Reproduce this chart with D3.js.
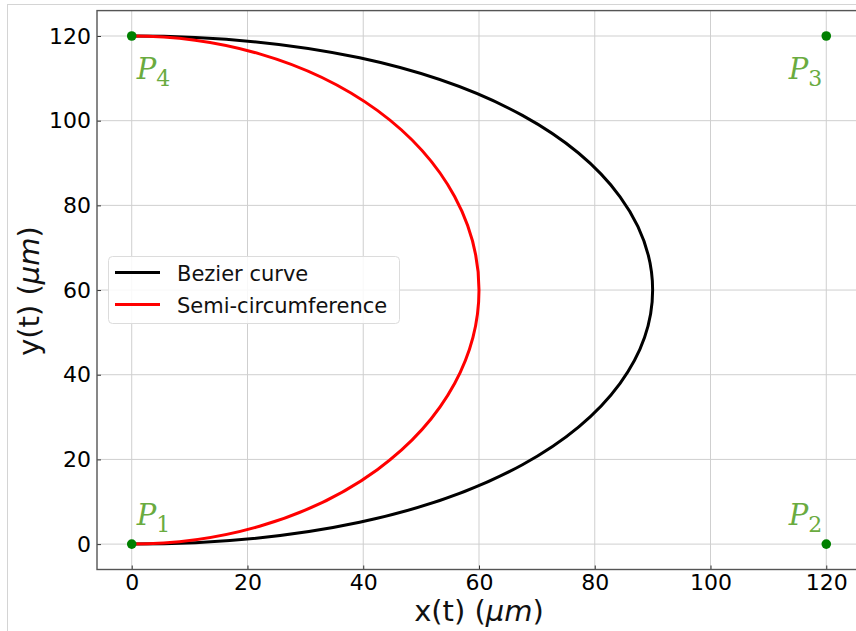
<!DOCTYPE html>
<html>
<head>
<meta charset="utf-8">
<script src="https://cdn.jsdelivr.net/npm/d3@7"></script>
<style>
  html, body { margin: 0; padding: 0; background: #fff; }
  svg { display: block; }
</style>
</head>
<body>
<svg id="chart" width="856" height="631"></svg>
<script>
// ---------- data ----------
const controlX = [0, 120, 120, 0];
const controlY = [0, 0, 120, 120];
const controlLabels = ["1", "2", "3", "4"];
const circleCenter = [0, 60];
const circleRadius = 60;
const xTicks = [0, 20, 40, 60, 80, 100, 120];
const yTicks = [0, 20, 40, 60, 80, 100, 120];
const xDomain = [-6, 126];
const yDomain = [-6, 126];
const legendLabels = ["Bezier curve", "Semi-circumference"];
const legendColors = ["#000000", "#ff0000"];

// ---------- layout ----------
const W = 856, H = 631;
const plot = { left: 97, right: 861, top: 10.6, bottom: 569.5 };
const svg = d3.select("#chart");

// outer frame (screenshot border)
svg.append("line").attr("x1", 7.5).attr("x2", 7.5).attr("y1", 4).attr("y2", H)
  .attr("stroke", "#d4d4d4").attr("stroke-width", 1);
svg.append("line").attr("x1", 7.5).attr("x2", W).attr("y1", 4.5).attr("y2", 4.5)
  .attr("stroke", "#d4d4d4").attr("stroke-width", 1);

const x = d3.scaleLinear().domain(xDomain).range([plot.left, plot.right]);
const y = d3.scaleLinear().domain(yDomain).range([plot.bottom, plot.top]);

const font = "'DejaVu Sans', sans-serif";

// grid
const grid = svg.append("g");
grid.selectAll("line.gx").data(xTicks).join("line")
  .attr("x1", d => x(d)).attr("x2", d => x(d))
  .attr("y1", plot.top).attr("y2", plot.bottom)
  .attr("stroke", "#cfcfcf").attr("stroke-width", 1);
grid.selectAll("line.gy").data(yTicks).join("line")
  .attr("x1", plot.left).attr("x2", plot.right)
  .attr("y1", d => y(d)).attr("y2", d => y(d))
  .attr("stroke", "#cfcfcf").attr("stroke-width", 1);

// axes
const xAxis = svg.append("g").attr("transform", `translate(0,${plot.bottom})`)
  .call(d3.axisBottom(x).tickValues(xTicks).tickFormat(d3.format("d")).tickSizeInner(-4).tickSizeOuter(0).tickPadding(5));
const yAxis = svg.append("g").attr("transform", `translate(${plot.left},0)`)
  .call(d3.axisLeft(y).tickValues(yTicks).tickFormat(d3.format("d")).tickSizeInner(-4).tickSizeOuter(0).tickPadding(6));
[xAxis, yAxis].forEach(a => {
  a.select(".domain").remove();
  a.selectAll(".tick line").attr("stroke", "#333").attr("stroke-width", 1);
  a.selectAll(".tick text").attr("font-family", font).attr("font-size", 22).attr("fill", "#000");
});

// spines
svg.append("rect").attr("x", plot.left).attr("y", plot.top)
  .attr("width", plot.right - plot.left).attr("height", plot.bottom - plot.top)
  .attr("fill", "none").attr("stroke", "#555").attr("stroke-width", 1.4);

// Bezier curve from control points
const bp = d3.path();
bp.moveTo(x(controlX[0]), y(controlY[0]));
bp.bezierCurveTo(x(controlX[1]), y(controlY[1]), x(controlX[2]), y(controlY[2]), x(controlX[3]), y(controlY[3]));
svg.append("path").attr("d", bp.toString()).attr("fill", "none")
  .attr("stroke", legendColors[0]).attr("stroke-width", 3);

// Semi-circumference (ellipse in pixel space due to unequal aspect)
const rx = x(circleCenter[0] + circleRadius) - x(circleCenter[0]);
const ry = y(circleCenter[1] - circleRadius) - y(circleCenter[1]);
const sx = x(circleCenter[0]), sy = y(circleCenter[1] - circleRadius);
const ex = x(circleCenter[0]), ey = y(circleCenter[1] + circleRadius);
svg.append("path")
  .attr("d", `M${sx},${sy} A${rx},${ry} 0 0 0 ${ex},${ey}`)
  .attr("fill", "none").attr("stroke", legendColors[1]).attr("stroke-width", 3);

// control points
const pts = controlX.map((d, i) => ({ x: d, y: controlY[i], label: controlLabels[i] }));
svg.selectAll("circle.cp").data(pts).join("circle")
  .attr("cx", d => x(d.x)).attr("cy", d => y(d.y)).attr("r", 4.8)
  .attr("fill", "#008000");

// labels P_i
const lab = svg.selectAll("text.pl").data(pts).join("text")
  .attr("x", d => x(d.x) + (d.x > 60 ? -4 : 5))
  .attr("y", d => y(d.y) + (d.y > 60 ? 43 : -19))
  .attr("text-anchor", d => d.x > 60 ? "end" : "start")
  .attr("font-family", "'DejaVu Serif', 'Liberation Serif', serif")
  .attr("font-style", "italic")
  .attr("font-size", 29)
  .attr("fill", "#6aab3f");
lab.append("tspan").text("P");
lab.append("tspan").attr("dy", 7).attr("font-size", 22).attr("font-style", "normal").text(d => d.label);

// axis titles
const xt = svg.append("text").attr("x", 479).attr("y", 621).attr("text-anchor", "middle")
  .attr("font-family", font).attr("font-size", 29).attr("fill", "#111");
xt.append("tspan").text("x(t) (");
xt.append("tspan").attr("font-style", "italic").text("μm");
xt.append("tspan").text(")");

const yt = svg.append("text").attr("transform", "translate(39,291) rotate(-90)").attr("text-anchor", "middle")
  .attr("font-family", font).attr("font-size", 29).attr("fill", "#111");
yt.append("tspan").text("y(t) (");
yt.append("tspan").attr("font-style", "italic").text("μm");
yt.append("tspan").text(")");

// legend
const lg = svg.append("g");
lg.append("rect").attr("x", 108.5).attr("y", 256.5).attr("width", 291).attr("height", 67)
  .attr("rx", 4).attr("fill", "#fff").attr("fill-opacity", 0.85)
  .attr("stroke", "#dcdcdc").attr("stroke-width", 1);
legendLabels.forEach((t, i) => {
  const yy = 272.5 + i * 32;
  lg.append("line").attr("x1", 115).attr("x2", 160).attr("y1", yy).attr("y2", yy)
    .attr("stroke", legendColors[i]).attr("stroke-width", 3);
  lg.append("text").attr("x", 177).attr("y", yy + 8).attr("font-family", font)
    .attr("font-size", 21).attr("fill", "#111").text(t);
});
</script>
</body>
</html>
